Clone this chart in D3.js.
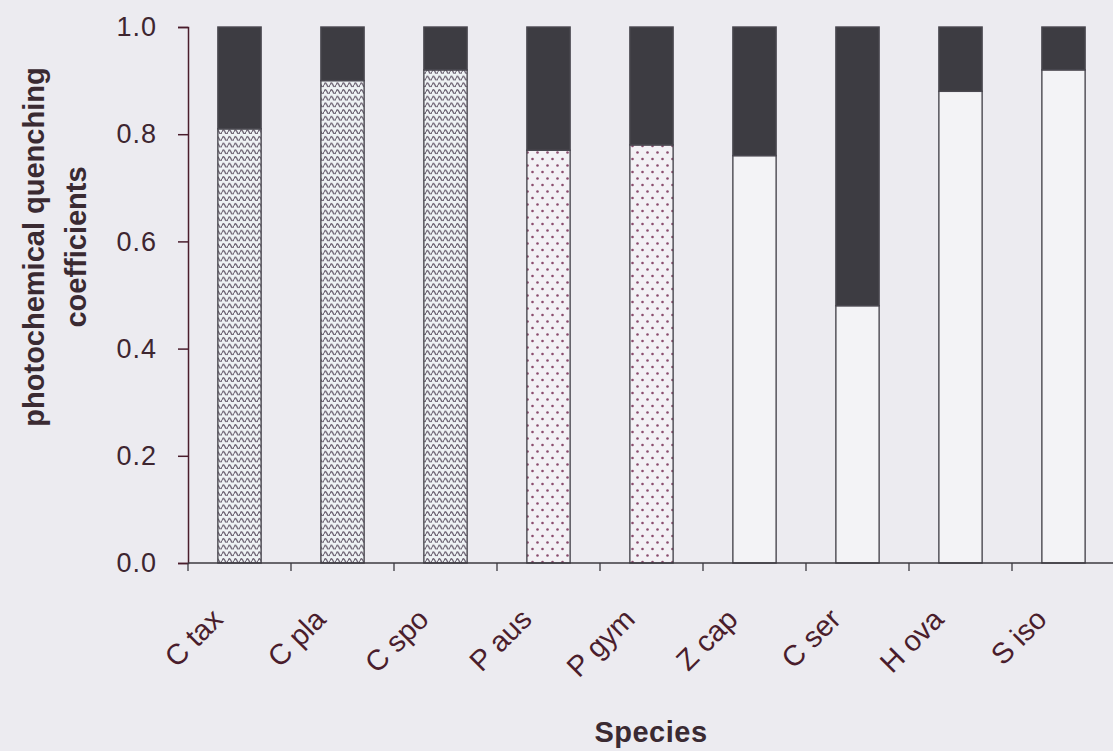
<!DOCTYPE html>
<meta charset="utf-8">
<script src="https://cdn.jsdelivr.net/npm/d3@7"></script>
<style>
    body { margin: 0; background: #ecebf0; }
    svg { display: block; font-family: "Liberation Sans", Arial, sans-serif; }
</style>
<svg id="chart" width="1113" height="751"></svg>
<script>
    // values
    var species = ["C tax", "C pla", "C spo", "P aus", "P gym", "Z cap", "C ser", "H ova", "S iso"];
    var lowerPart = [0.81, 0.90, 0.92, 0.77, 0.78, 0.76, 0.48, 0.88, 0.92];
    var upperPart = [0.19, 0.10, 0.08, 0.23, 0.22, 0.24, 0.52, 0.12, 0.08];
    var groups = ["wave", "wave", "wave", "dots", "dots", "plain", "plain", "plain", "plain"];
    var yTicks = [0, 0.2, 0.4, 0.6, 0.8, 1.0];

    var ink = "#4a1d2c";
    var width = 1113, height = 751;
    var svg = d3.select("#chart");

    var rows = species.map((s, i) => ({ name: s, lower: lowerPart[i], upper: upperPart[i], group: groups[i] }));

    var x = d3.scaleBand()
        .domain(species)
        .range([188, 1115])
        .paddingInner(0.58)
        .paddingOuter(0.29);

    var y = d3.scaleLinear()
        .domain([0, 1])
        .range([563, 27]);

    // fills
    var defs = svg.append("defs");
    var wave = defs.append("pattern")
        .attr("id", "wave")
        .attr("patternUnits", "userSpaceOnUse")
        .attr("width", 6).attr("height", 6.7);
    wave.append("rect").attr("width", 6).attr("height", 6.7).attr("fill", "#eef2f4");
    wave.append("path")
        .attr("d", "M0,4.6 Q1.5,0.6 3,4.6 T6,4.6")
        .attr("fill", "none")
        .attr("stroke", "#6a6070")
        .attr("stroke-width", 1.3);

    var dots = defs.append("pattern")
        .attr("id", "dots")
        .attr("patternUnits", "userSpaceOnUse")
        .attr("width", 10).attr("height", 13);
    dots.append("rect").attr("width", 10).attr("height", 13).attr("fill", "#f3f1f5");
    dots.append("circle").attr("cx", 2.5).attr("cy", 3).attr("r", 1.3).attr("fill", "#8b4d6e");
    dots.append("circle").attr("cx", 7.5).attr("cy", 9.5).attr("r", 1.3).attr("fill", "#8b4d6e");

    var groupFill = { wave: "url(#wave)", dots: "url(#dots)", plain: "#f3f3f6" };

    var stack = d3.stack().keys(["lower", "upper"]);
    var series = stack(rows);

    var layers = svg.append("g")
        .selectAll("g")
        .data(series)
        .join("g");

    layers.selectAll("rect")
        .data(s => s.map(d => ({ key: s.key, d: d })))
        .join("rect")
        .attr("x", e => x(e.d.data.name))
        .attr("y", e => y(e.d[1]))
        .attr("width", x.bandwidth())
        .attr("height", e => y(e.d[0]) - y(e.d[1]))
        .attr("fill", e => e.key === "upper" ? "#3d3c42" : groupFill[e.d.data.group])
        .attr("stroke", "#4a4850")
        .attr("stroke-width", 1.4);

    // y axis
    var yAxis = svg.append("g")
        .attr("transform", "translate(188,0)")
        .call(d3.axisLeft(y)
            .tickValues(yTicks)
            .tickFormat(d3.format(".1f"))
            .tickSize(10)
            .tickPadding(21));
    yAxis.selectAll("path, line").attr("stroke", ink).attr("stroke-width", 1.5);
    yAxis.selectAll("text")
        .attr("fill", "#3e2630")
        .attr("font-size", 27)
        .attr("letter-spacing", 1)
        .attr("font-family", "Liberation Sans, Arial, sans-serif");

    // x axis: ticks sit between categories
    var xAxis = svg.append("g")
        .attr("transform", "translate(0,563)");
    xAxis.append("line")
        .attr("x1", 188).attr("x2", width)
        .attr("stroke", "#3c3a40").attr("stroke-width", 1.5);
    var bounds = species.map(s => x(s) - x.step() * x.paddingInner() / 2);
    xAxis.selectAll("line.tick")
        .data(bounds)
        .join("line")
        .attr("class", "tick")
        .attr("x1", d => d).attr("x2", d => d)
        .attr("y1", 0).attr("y2", 8)
        .attr("stroke", "#3c3a40").attr("stroke-width", 1.3);

    svg.append("g")
        .selectAll("text")
        .data(species)
        .join("text")
        .attr("transform", d => `translate(${x(d) + x.bandwidth() / 2 - 15},621) rotate(-45)`)
        .attr("text-anchor", "end")
        .attr("fill", ink)
        .attr("font-size", 29)
        .text(d => d);

    // titles
    var yTitle = svg.append("text")
        .attr("transform", "translate(0,247) rotate(-90)")
        .attr("text-anchor", "middle")
        .attr("fill", "#3a2a32")
        .attr("font-size", 29)
        .attr("font-weight", "bold");
    yTitle.append("tspan").attr("x", 0).attr("y", 44).text("photochemical quenching");
    yTitle.append("tspan").attr("x", 0).attr("y", 86).text("coefficients");

    svg.append("text")
        .attr("x", 651)
        .attr("y", 742)
        .attr("text-anchor", "middle")
        .attr("fill", "#3a2a32")
        .attr("font-size", 29)
        .attr("font-weight", "bold")
        .attr("letter-spacing", 0.5)
        .text("Species");
</script>
